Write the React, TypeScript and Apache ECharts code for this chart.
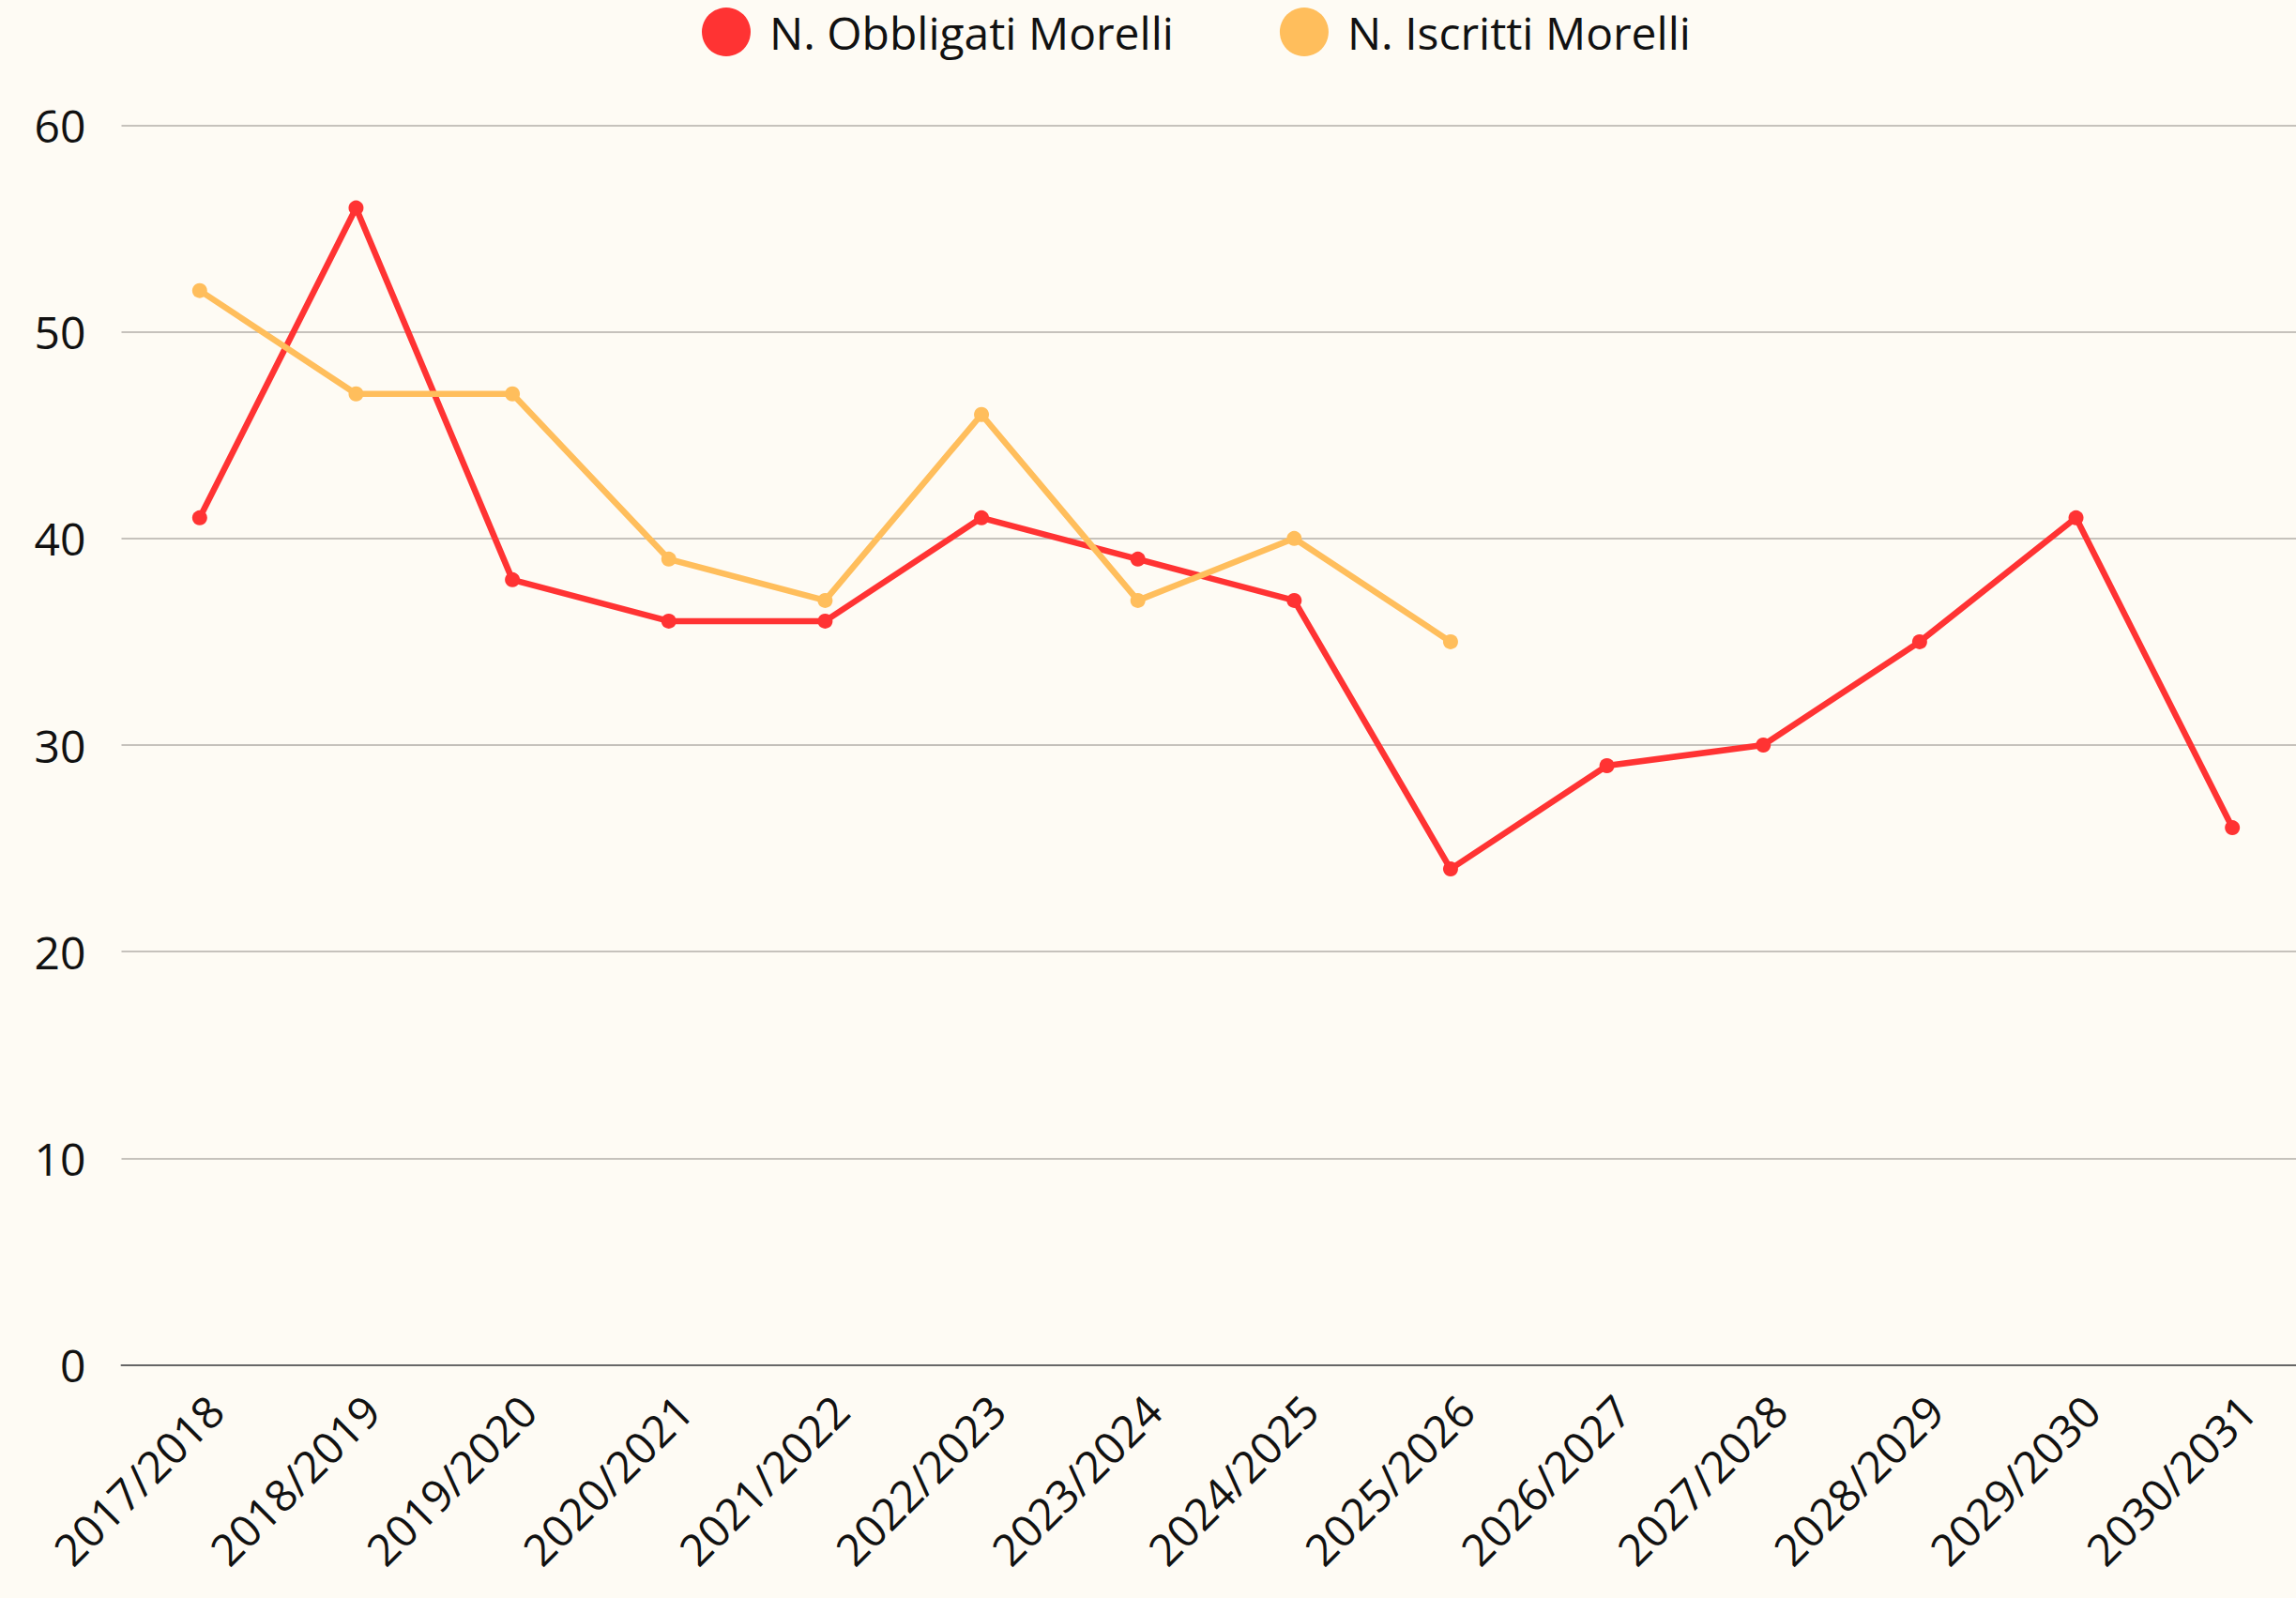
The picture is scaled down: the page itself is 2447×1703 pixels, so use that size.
import React, { useEffect, useRef } from "react";
import * as echarts from "echarts";

const categories = [
  "2017/2018", "2018/2019", "2019/2020", "2020/2021", "2021/2022", "2022/2023", "2023/2024",
  "2024/2025", "2025/2026", "2026/2027", "2027/2028", "2028/2029", "2029/2030", "2030/2031",
];
const obbligati = [41, 56, 38, 36, 36, 41, 39, 37, 24, 29, 30, 35, 41, 26];
const iscritti = [52, 47, 47, 39, 37, 46, 37, 40, 35, null, null, null, null, null];
const yTicks = { min: 0, max: 60, interval: 10 };

const FONT = "'Open Sans', 'Noto Sans', sans-serif";

export default function App() {
  const ref = useRef<HTMLDivElement>(null);
  useEffect(() => {
    if (!ref.current) return;
    const chart = echarts.init(ref.current, undefined, { renderer: "svg" });
    chart.setOption({
      animation: false,
      backgroundColor: "#FEFBF4",
      textStyle: { fontFamily: FONT },
      legend: {
        top: 3,
        left: 743,
        icon: "circle",
        itemWidth: 52,
        itemHeight: 52,
        itemGap: 113,
        textStyle: { fontSize: 48, color: "#111", fontFamily: FONT, padding: [0, 0, 0, 15] },
        data: ["N. Obbligati Morelli", "N. Iscritti Morelli"],
      },
      grid: { left: 129.5, top: 133.5, width: 2333, height: 1321, containLabel: false },
      xAxis: {
        type: "category",
        data: categories,
        boundaryGap: true,
        axisLine: { lineStyle: { color: "#666", width: 2 } },
        axisTick: { show: false },
        axisLabel: {
          rotate: 45,
          interval: 0,
          fontSize: 47,
          color: "#111",
          margin: 24,
          verticalAlign: "top",
          fontFamily: FONT,
        },
      },
      yAxis: {
        type: "value",
        min: yTicks.min,
        max: yTicks.max,
        interval: yTicks.interval,
        axisLine: { show: false },
        axisTick: { show: false },
        splitLine: { lineStyle: { color: "#C6C2BC", width: 2 } },
        axisLabel: { fontSize: 48, color: "#111", margin: 38, fontFamily: FONT },
      },
      series: [
        {
          name: "N. Obbligati Morelli",
          type: "line",
          data: obbligati,
          color: "#FF3333",
          symbol: "circle",
          symbolSize: 16,
          lineStyle: { width: 6.5, color: "#FF3333" },
          itemStyle: { color: "#FF3333" },
        },
        {
          name: "N. Iscritti Morelli",
          type: "line",
          data: iscritti,
          color: "#FFBE5C",
          symbol: "circle",
          symbolSize: 16,
          lineStyle: { width: 6.5, color: "#FFBE5C" },
          itemStyle: { color: "#FFBE5C" },
        },
      ],
    });
    return () => chart.dispose();
  }, []);
  return (
    <div
      ref={ref}
      style={{ position: "fixed", left: 0, top: 0, width: 2470, height: 1703 }}
    />
  );
}
